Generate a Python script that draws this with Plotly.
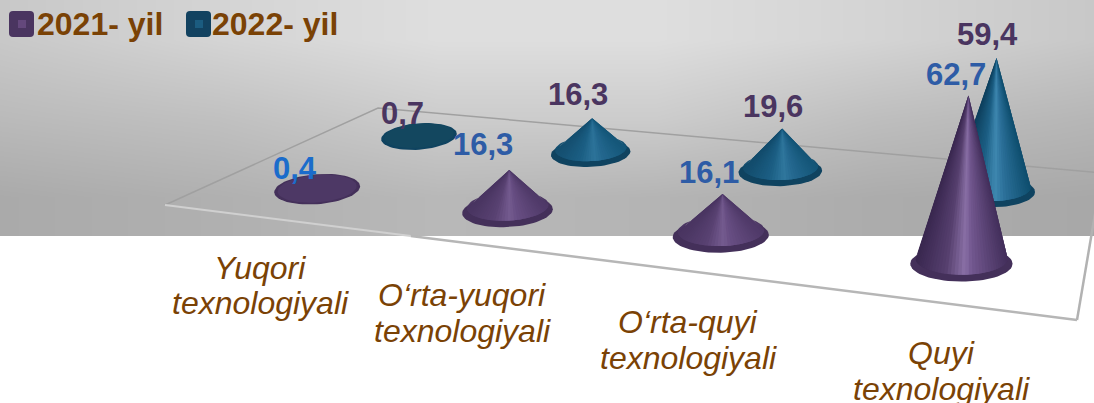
import numpy as np
import plotly.graph_objects as go

# ---- data ----
categories = ["Yuqori|texnologiyali", "O‘rta-yuqori|texnologiyali", "O‘rta-quyi|texnologiyali", "Quyi|texnologiyali"]
series_names = ["2021- yil", "2022- yil"]
values_2021 = [0.4, 16.3, 16.1, 62.7]
values_2022 = [0.7, 16.3, 19.6, 59.4]
labels_2021 = ["0,4", "16,3", "16,1", "62,7"]
labels_2022 = ["0,7", "16,3", "19,6", "59,4"]

# ---- style / layout ----
W, H = 1094, 403
BAND_BOTTOM = 236
FLOOR_PX = {(0, 0): (165, 205), (4, 0): (1077, 320), (0, 2): (378, 108), (4, 2): (1102, 173)}
ROW_DEPTH = [0.46, 1.50]
ROW_HEIGHT = [1.05, 0.95]
CAT_OFFSET = 0.535
R_PX = 45
ELLIPSE = 0.35
TILT = 0.07
Z_PX = 2.4
Z_LEAN = 0.1
RIM_Z = 2.0
bg_x = [0, 219, 438, 656, 875, 1094]
bg_y = [0, 79, 158, 236]
bg_grey = [[200, 212, 222, 222, 212, 200],
           [186, 192, 204, 204, 190, 182],
           [170, 176, 184, 180, 172, 168]]
purple = dict(rim="#44305a", mid="#5c4476", flat="#4d3865",
              stops=[(-1, "#3a2850"), (-.35, "#57406f"), (.06, "#8a70a6"), (.22, "#735890"), (1, "#44305c")])
teal = dict(rim="#0f4360", mid="#1b5f84", flat="#13475f",
            stops=[(-1, "#0e3f5c"), (-.3, "#1c5f84"), (.1, "#3f88b0"), (.35, "#2c7099"), (1, "#0f4f6f")])
BLUE = "#2e5ca6"; BRIGHT = "#1b6ccb"; DARK = "#4a3560"; BROWN = "#7a4205"
label_off_2021 = [(-22, -20), (-26, -25), (-14, -21), (-12, -21)]
label_off_2022 = [(-17, -22), (-14, -24), (-9, -22), (-9, -23)]
label_col_2021 = [BRIGHT, BLUE, BLUE, BLUE]
cat_pos = [(260, 268, 303), (462, 295, 331), (688, 322, 358), (941, 353, 389)]

# ---- projection of the chart floor onto the axes ----
A, b = [], []
for (u, v), (x, y) in FLOOR_PX.items():
    A.append([u, v, 1, 0, 0, 0, -u * x, -v * x]); b.append(x)
    A.append([0, 0, 0, u, v, 1, -u * y, -v * y]); b.append(y)
h = np.linalg.solve(np.array(A, float), np.array(b, float))
w_ref = h[6] * 1.5 + h[7] * .5 + 1
def depth(u, v): return h[6] * u + h[7] * v + 1
def project(u, v, z=0.0):
    w = depth(u, v)
    k = (w_ref / w) ** .5
    return ((h[0] * u + h[1] * v + h[2]) / w + Z_LEAN * k * z,
            (h[3] * u + h[4] * v + h[5]) / w - Z_PX * k * z)

def hex2rgb(c): return np.array([int(c[i:i + 2], 16) for i in (1, 3, 5)], float)
def shade(style, s, a):
    st = style["stops"]
    xs = [p[0] for p in st]
    col = np.array([np.interp(s, xs, [hex2rgb(p[1])[k] for p in st]) for k in range(3)])
    col = hex2rgb(style["mid"]) + (col - hex2rgb(style["mid"])) * a
    return "rgb(%d,%d,%d)" % tuple(np.clip(col, 0, 255))

fig = go.Figure()
fig.add_trace(go.Heatmap(x=bg_x, y=bg_y, z=bg_grey, zmin=0, zmax=255, zsmooth="best", showscale=False,
                         colorscale=[[0, "#000"], [1, "#fff"]], hoverinfo="skip"))

def line(px, color, width):
    fig.add_trace(go.Scatter(x=[p[0] for p in px], y=[p[1] for p in px], mode="lines", hoverinfo="skip",
                             line=dict(color=color, width=width), showlegend=False))
def poly(xs, ys, color):
    fig.add_trace(go.Scatter(x=xs, y=ys, mode="lines", fill="toself", fillcolor=color, line=dict(width=0),
                             hoverinfo="skip", showlegend=False))

# floor frame
back, left, right = project(0, 2), project(0, 0), project(4, 0)
backr = project(4, 2)
line([left, back, backr], "#a0a0a0", 1.5)
line([backr, right], "#b2b2b2", 2.5)
t = (BAND_BOTTOM - left[1]) / (right[1] - left[1])
cross = (left[0] + t * (right[0] - left[0]), BAND_BOTTOM)
line([left, cross], "#d0d0d0", 2)
line([cross, right], "#b6b6b6", 2.5)

def ring(u, v, f, z, th):
    cx, cy = project(u, v, z)
    rx = R_PX * f * w_ref / depth(u, v)
    tilt = TILT * (3.5 - u) / 3
    x = rx * np.cos(th)
    return cx + x, cy - ELLIPSE * rx * np.sin(th) - tilt * x

def cone(u, v, val, style, row_k):
    val = val * row_k
    th = np.linspace(0, 2 * np.pi, 73)
    x, y = ring(u, v, 1, 0, th)
    poly(list(x), list(y), style["rim"])
    base_z = min(RIM_Z, val * .5)
    a = min(1.0, .12 + val / 40)
    ax, ay = project(u, v, val)
    if val < RIM_Z:
        x, y = ring(u, v, .92, base_z, th)
        poly(list(x), list(y), style["flat"])
        return ax, ay
    x, y = ring(u, v, .9, base_z, th[:37])
    poly([ax] + list(x), [ay] + list(y), shade(style, -.9, a))
    edges = np.linspace(np.pi, 2 * np.pi, 41)
    for i in range(40):
        mid = (edges[i] + edges[i + 1]) / 2
        x, y = ring(u, v, .9, base_z, edges[i:i + 3])
        poly([ax] + list(x), [ay] + list(y), shade(style, np.cos(mid), a))
    return ax, ay

annots = []
def text(x, y, s, color, size=31, bold=True, italic=False, anchor="center", xs=0, ys=0):
    annots.append(dict(x=x, y=y, xref="x", yref="y", text=s, showarrow=False, xanchor=anchor, yanchor="middle",
                       xshift=xs, yshift=ys,
                       font=dict(family="Liberation Sans, Arial", size=size, color=color,
                                 weight="bold" if bold else "normal", style="italic" if italic else "normal")))

apex_22 = [cone(i + CAT_OFFSET, ROW_DEPTH[1], v, teal, ROW_HEIGHT[1]) for i, v in enumerate(values_2022)]
apex_21 = [cone(i + CAT_OFFSET, ROW_DEPTH[0], v, purple, ROW_HEIGHT[0]) for i, v in enumerate(values_2021)]
for i in range(4):
    ox, oy = label_off_2022[i]
    text(apex_22[i][0], apex_22[i][1], labels_2022[i], DARK, xs=ox, ys=-oy)
    ox, oy = label_off_2021[i]
    text(apex_21[i][0], apex_21[i][1], labels_2021[i], label_col_2021[i], xs=ox, ys=-oy)
for cat, (cx, y1, y2) in zip(categories, cat_pos):
    l1, l2 = cat.split("|")
    text(cx, y1, l1, BROWN, size=32, bold=False, italic=True)
    text(cx, y2, l2, BROWN, size=32, bold=False, italic=True)

# legend
text(35, 24, series_names[0], BROWN, size=32, anchor="left")
text(210, 24, series_names[1], BROWN, size=32, anchor="left")
def rrect(x0, y0, x1, y1, r=4):
    return (f"M{x0+r},{y0} L{x1-r},{y0} Q{x1},{y0} {x1},{y0+r} L{x1},{y1-r} Q{x1},{y1} {x1-r},{y1} "
            f"L{x0+r},{y1} Q{x0},{y1} {x0},{y1-r} L{x0},{y0+r} Q{x0},{y0} {x0+r},{y0} Z")
shapes = []
for (x0, c1, c2) in [(9, "#4a3560", "#64487c"), (186, "#124260", "#1b5c80")]:
    shapes.append(dict(type="path", path=rrect(x0, 11, x0 + 25, 37), fillcolor=c1, line_width=0, xref="x", yref="y"))
    shapes.append(dict(type="rect", x0=x0 + 9, x1=x0 + 17, y0=20, y1=28, fillcolor=c2, line_width=0, xref="x", yref="y"))

fig.update_layout(width=W, height=H, margin=dict(l=0, r=0, t=0, b=0), paper_bgcolor="white", plot_bgcolor="white",
                  showlegend=False, annotations=annots, shapes=shapes,
                  xaxis=dict(range=[0, W], visible=False, fixedrange=True),
                  yaxis=dict(range=[H, 0], visible=False, fixedrange=True))
fig.write_html("out.html", config=dict(displayModeBar=False),
               post_script="document.body.style.margin='0';document.body.style.overflow='hidden';")
